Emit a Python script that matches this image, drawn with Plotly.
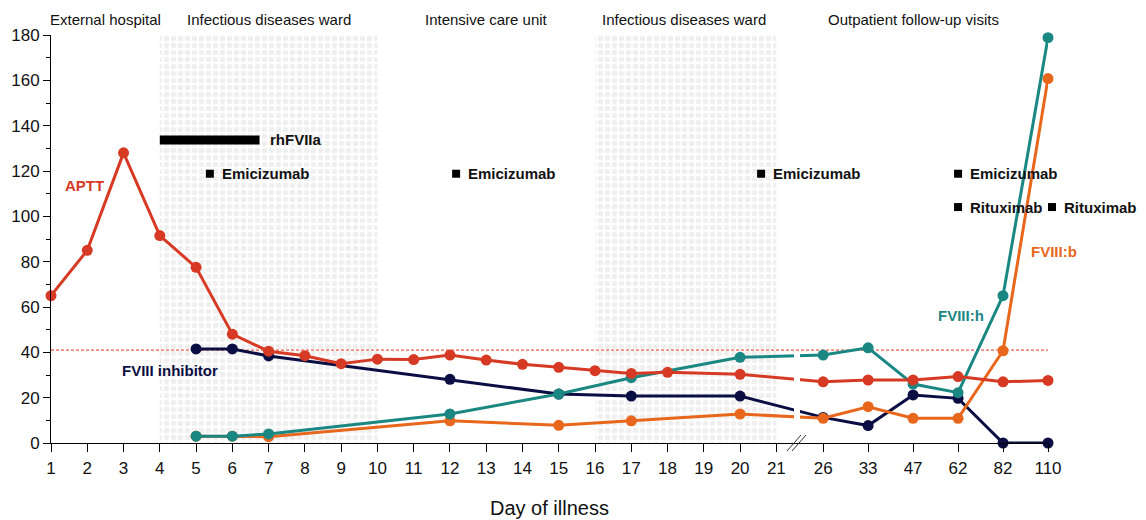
import plotly.graph_objects as go

# ---------------- data ----------------
tick_days = [1, 2, 3, 4, 5, 6, 7, 8, 9, 10, 11, 12, 13, 14, 15, 16, 17, 18, 19, 20, 21,
             26, 33, 47, 62, 82, 110]

aptt_days = [1, 2, 3, 4, 5, 6, 7, 8, 9, 10, 11, 12, 13, 14, 15, 16, 17, 18, 20,
             26, 33, 47, 62, 82, 110]
aptt_vals = [65, 85, 128, 91.5, 77.5, 48, 40.5, 38.5, 35, 37, 36.8, 38.8, 36.6, 34.7, 33.4,
             31.9, 30.7, 31.2, 30.3, 27, 27.8, 27.8, 29.3, 27, 27.6]

lab_days = [5, 6, 7, 12, 15, 17, 20, 26, 33, 47, 62, 82, 110]
inhib_vals = [41.5, 41.5, 38.4, 28.1, 21.6, 20.7, 20.7, 11.3, 7.7, 21.2, 19.7, 0, 0]
fviii_h_vals = [3, 3, 4, 12.8, 21.6, 28.8, 37.8, 38.8, 42, 26, 22.2, 65, 178.8]
fviii_b_vals = [3, 3, 2.8, 9.8, 7.8, 9.8, 12.8, 10.9, 16, 10.9, 10.9, 40.7, 160.8]

aptt_upper_limit = 41

ward_periods = [(4, 10), (16, 21)]
location_labels = ["External hospital", "Infectious diseases ward", "Intensive care unit",
                   "Infectious diseases ward", "Outpatient follow-up visits"]
location_centers = [2.5, 7, 13, 18.45, 47]

rhfviia_period = (4, 6.75)
rhfviia_level = 133.7
emicizumab_doses = [5.38, 12.17, 20.58, 62]
emicizumab_level = 118.8
rituximab_doses = [62, 112.5]
rituximab_level = 104.1

# ---------------- scale ----------------
late_days = [d for d in tick_days if d > 21]
LATE_STEP = 1.24


def pos(d):
    """Broken x axis: days 1..21 linear, then equally spaced late visits."""
    if d <= 21:
        return d
    if d <= late_days[0]:
        return 21 + (d - 21) / (late_days[0] - 21) * 1.29
    for i, (a, b) in enumerate(zip(late_days[:-1], late_days[1:])):
        if a <= d <= b:
            return 21 + 1.29 + (i + (d - a) / (b - a)) * LATE_STEP
    return 21 + 1.29 + (len(late_days) - 1) * LATE_STEP + (d - late_days[-1]) / 28 * LATE_STEP


X0, X1 = 1, pos(110)


def px(d):
    return (pos(d) - X0) / (X1 - X0)


C_RED = "#d73a24"
C_NAVY = "#0b0e42"
C_TEAL = "#1a8783"
C_ORANGE = "#e8671c"
TXT = "#111111"
FONT = "Liberation Sans, Arial, sans-serif"

# the page body has an 8px margin: compensate so the plot area lands where the reference has it
OFF = 8
PLOT_H = 408

fig = go.Figure()

# shaded ward periods
for a, b in ward_periods:
    fig.add_trace(go.Scatter(
        x=[pos(a), pos(b), pos(b), pos(a), pos(a)], y=[0, 0, 180, 180, 0],
        mode="none", fill="toself", fillcolor="#f0f0f0",
        fillpattern=dict(shape=".", fgcolor="#e0e0e0", bgcolor="#ffffff", size=7, solidity=0.5),
        hoverinfo="skip", showlegend=False))

# APTT upper limit
fig.add_trace(go.Scatter(
    x=[X0, X1], y=[aptt_upper_limit] * 2, mode="lines",
    line=dict(color="#e5321f", width=1, dash="3px,2px"),
    hoverinfo="skip", showlegend=False))


def series(days, vals, color):
    fig.add_trace(go.Scatter(
        x=[pos(d) for d in days], y=vals, mode="lines+markers",
        line=dict(color=color, width=3),
        marker=dict(color=color, size=11),
        cliponaxis=False, hoverinfo="skip", showlegend=False))


series(lab_days, inhib_vals, C_NAVY)
series(lab_days, fviii_b_vals, C_ORANGE)
series(lab_days, fviii_h_vals, C_TEAL)
series(aptt_days, aptt_vals, C_RED)

shapes = []
annotations = []


def yp(v):
    return v / 180


# rhFVIIa bar
shapes.append(dict(type="line", xref="x", yref="y",
                   x0=pos(rhfviia_period[0]), x1=pos(rhfviia_period[1]),
                   y0=rhfviia_level, y1=rhfviia_level,
                   line=dict(color="black", width=9)))
annotations.append(dict(text="<b>rhFVIIa</b>", x=px(rhfviia_period[1]), y=yp(rhfviia_level),
                        xref="paper", yref="paper", xanchor="left", yanchor="middle",
                        xshift=8, showarrow=False,
                        font=dict(size=15, color=TXT, family=FONT)))


def dose(d, level, name):
    shapes.append(dict(type="rect", xref="paper", yref="paper",
                       xsizemode="pixel", ysizemode="pixel",
                       xanchor=px(d), yanchor=yp(level),
                       x0=-4, x1=4, y0=-4, y1=4,
                       fillcolor="black", line=dict(width=0)))
    annotations.append(dict(text="<b>%s</b>" % name, x=px(d), y=yp(level),
                            xref="paper", yref="paper", xanchor="left", yanchor="middle",
                            xshift=10, showarrow=False,
                            font=dict(size=15, color=TXT, family=FONT)))


for d in emicizumab_doses:
    dose(d, emicizumab_level, "Emicizumab")
for d in rituximab_doses:
    dose(d, rituximab_level, "Rituximab")

# white gap at axis break
shapes.append(dict(type="rect", xref="paper", yref="y",
                   x0=(794 - 51) / 997, x1=(800 - 51) / 997, y0=5, y1=40,
                   fillcolor="white", line=dict(width=0), layer="above"))
# break marks
for dx in (0, 5):
    shapes.append(dict(type="line", xref="paper", yref="paper",
                       x0=(787 + dx - 51) / 997, x1=(801 + dx - 51) / 997,
                       y0=-8 / PLOT_H, y1=8 / PLOT_H,
                       line=dict(color="#333333", width=1)))

for txt, c in zip(location_labels, location_centers):
    annotations.append(dict(text=txt, x=px(c), xref="paper", yref="paper",
                            y=1 + 15 / PLOT_H, showarrow=False,
                            xanchor="center", yanchor="middle",
                            font=dict(size=15, color=TXT, family=FONT)))

series_labels = [("APTT", C_RED, 1.93, 113.5), ("FVIII inhibitor", C_NAVY, 4.28, 31.8),
                 ("FVIII:h", C_TEAL, 63.5, 56.2), ("FVIII:b", C_ORANGE, 113.5, 84.5)]
for txt, col, x, y in series_labels:
    annotations.append(dict(text="<b>%s</b>" % txt, x=px(x), y=yp(y), xref="paper", yref="paper",
                            xanchor="center", yanchor="middle", showarrow=False,
                            font=dict(size=15, color=col, family=FONT)))

annotations.append(dict(text="Day of illness", x=0.5, y=-65 / PLOT_H, xref="paper", yref="paper",
                        xanchor="center", yanchor="middle", showarrow=False,
                        font=dict(size=20, color=TXT, family=FONT)))

fig.update_layout(
    width=1146 - OFF, height=520 - OFF,
    margin=dict(l=51 - OFF, r=98, t=35 - OFF, b=77, pad=0, autoexpand=False),
    paper_bgcolor="white", plot_bgcolor="white",
    font=dict(family=FONT, color=TXT),
    shapes=shapes, annotations=annotations,
    xaxis=dict(range=[X0, X1], tickvals=[pos(d) for d in tick_days],
               ticktext=[str(d) for d in tick_days], automargin=False,
               showgrid=False, zeroline=False, showline=True, linecolor="black", linewidth=1,
               ticks="outside", ticklen=8, tickcolor="black", tickwidth=1,
               ticklabelstandoff=2,
               tickfont=dict(size=17, color=TXT, family=FONT)),
    yaxis=dict(range=[0, 180], tickvals=list(range(0, 181, 20)), automargin=False,
               showgrid=False, zeroline=False, showline=True, linecolor="black", linewidth=1,
               ticks="outside", ticklen=7, tickcolor="black", tickwidth=1,
               tickfont=dict(size=17, color=TXT, family=FONT),
               minor=dict(tickvals=list(range(10, 180, 20)), ticks="outside", ticklen=4,
                          tickcolor="black", tickwidth=1)),
)

fig.write_html("out.html")
